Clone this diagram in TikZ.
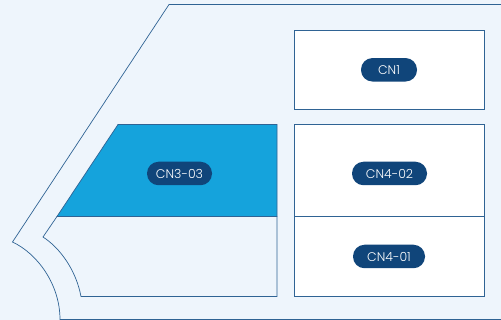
\documentclass[tikz,border=0pt]{standalone}
\usepackage{fontspec}
\setmainfont{Poppins Light}
\definecolor{pagebg}{HTML}{EEF5FC}
\definecolor{lineblue}{HTML}{2F6394}
\definecolor{zoneblue}{HTML}{15A3DC}
\definecolor{pillblue}{HTML}{10457A}
\tikzset{
  outline/.style={draw=lineblue,line width=0.7pt},
  zonebox/.style={outline,fill=white,inner sep=0pt,anchor=north west},
  pill/.style={fill=pillblue,text=white,rounded corners=11.5pt,inner sep=0pt,minimum height=23.5pt,font=\fontsize{12.5}{13}\selectfont},
}
\begin{document}
\begin{tikzpicture}[x=1pt,y=-1pt]
\useasboundingbox (0,0) rectangle (501,320);
\fill[pagebg] (0,0) rectangle (501,320);

\draw[outline] (501,4.5) -- (169,4.5) -- (12.5,242) .. controls (38,254) and (60,285) .. (60,319.5) -- (501,319.5);

\draw[fill=zoneblue,outline] (57,216.5) -- (118,124.5) -- (277,124.5) -- (277,216.5) -- cycle;
\draw[outline] (57,216.5) -- (43,237) .. controls (60,248) and (76,270) .. (81,296.5) -- (277,296.5) -- (277,216.5);

\node[zonebox,minimum width=190pt,minimum height=79.5pt] (box1) at (294,30) {};
\node[zonebox,minimum width=190pt,minimum height=92pt] (box402) at (294,124.5) {};
\node[zonebox,minimum width=190pt,minimum height=80pt] (box401) at (294,216.5) {};

\node[pill,minimum width=56pt] (cn1) at (389,69.8) {CN1};
\node[pill,minimum width=65pt] (cn303) at (179.5,173.5) {CN3-03};
\node[pill,minimum width=75pt] (cn402) at (389.5,173.5) {CN4-02};
\node[pill,minimum width=72pt] (cn401) at (389,256.5) {CN4-01};

\end{tikzpicture}
\end{document}
